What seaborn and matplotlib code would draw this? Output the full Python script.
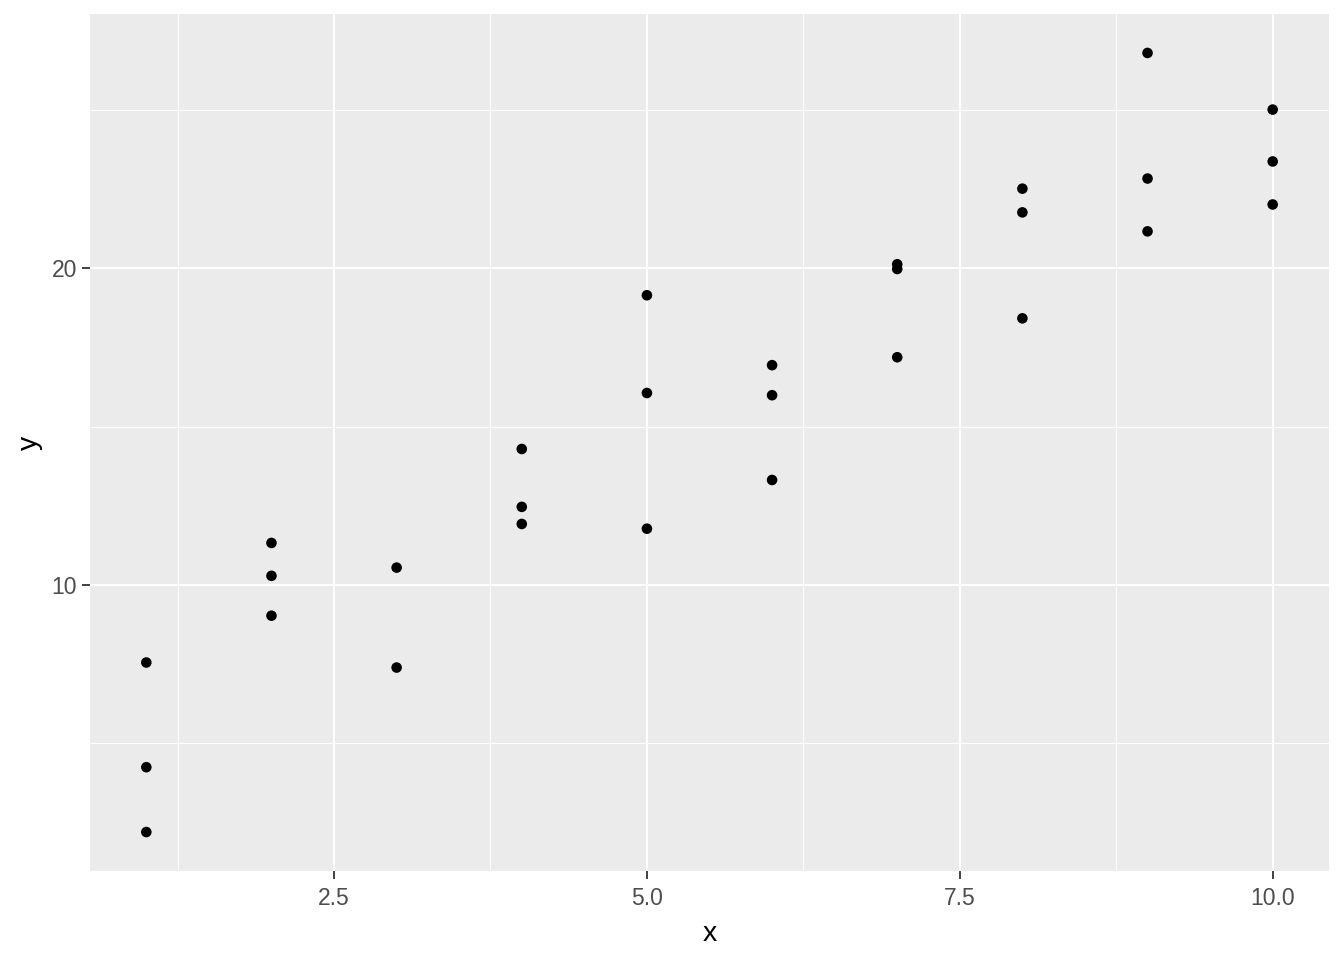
import numpy as np
import pandas as pd
import matplotlib
matplotlib.use("Agg")
import matplotlib.pyplot as plt
from matplotlib.ticker import FixedLocator
import seaborn as sns

# data
x_vals = [1, 1, 1, 2, 2, 2, 3, 3, 4, 4, 4, 5, 5, 5, 6, 6, 6, 7, 7, 7, 8, 8, 8, 9, 9, 9, 10, 10, 10]
y_vals = [7.54, 4.23, 2.18, 11.32, 10.28, 9.02, 10.54, 7.38, 14.29, 12.46, 11.92,
          19.15, 16.06, 11.77, 16.94, 15.99, 13.31, 20.13, 19.98, 17.19,
          22.52, 21.77, 18.42, 26.81, 22.84, 21.17, 25.02, 23.38, 22.02]
x_major = [2.5, 5.0, 7.5, 10.0]
x_minor = [1.25, 3.75, 6.25, 8.75]
y_major = [10, 20]
y_minor = [5, 15, 25]

df = pd.DataFrame({"x": x_vals, "y": y_vals})

sns.set_theme(style="darkgrid", rc={
    "axes.facecolor": "#EBEBEB",
    "grid.color": "white",
    "axes.edgecolor": "#EBEBEB",
})
plt.rcParams["font.family"] = ["Liberation Sans", "DejaVu Sans"]

fig = plt.figure(figsize=(13.44, 9.6), dpi=100)
ax = fig.add_axes([90 / 1344, 1 - 871 / 960, (1329 - 90) / 1344, (871 - 14) / 960])

sns.scatterplot(data=df, x="x", y="y", ax=ax, color="black", s=58,
                edgecolor="none", linewidth=0, zorder=3)

# ggplot-like 5% expansion
xr = max(x_vals) - min(x_vals)
yr = max(y_vals) - min(y_vals)
ax.set_xlim(min(x_vals) - 0.05 * xr, max(x_vals) + 0.05 * xr)
ax.set_ylim(min(y_vals) - 0.05 * yr, max(y_vals) + 0.05 * yr)

ax.xaxis.set_major_locator(FixedLocator(x_major))
ax.xaxis.set_minor_locator(FixedLocator(x_minor))
ax.yaxis.set_major_locator(FixedLocator(y_major))
ax.yaxis.set_minor_locator(FixedLocator(y_minor))
ax.set_xticklabels(["2.5", "5.0", "7.5", "10.0"])
ax.set_yticklabels(["10", "20"])

ax.grid(which="major", color="white", linewidth=1.4)
ax.grid(which="minor", color="white", linewidth=0.7)
ax.set_axisbelow(True)
for sp in ax.spines.values():
    sp.set_visible(False)

ax.tick_params(which="major", length=5.8, width=1.3, color="#333333",
               labelsize=16.5, labelcolor="#4D4D4D")
ax.tick_params(axis="x", pad=5.5)
ax.tick_params(axis="y", pad=3.5)
ax.tick_params(which="minor", length=0)
ax.tick_params(axis="x", bottom=True)
ax.tick_params(axis="y", left=True)

ax.set_xlabel("x", fontsize=20.5, color="black", labelpad=8)
ax.set_ylabel("y", fontsize=20.5, color="black", labelpad=6)

fig.savefig("out.png", dpi=100, facecolor="white")
